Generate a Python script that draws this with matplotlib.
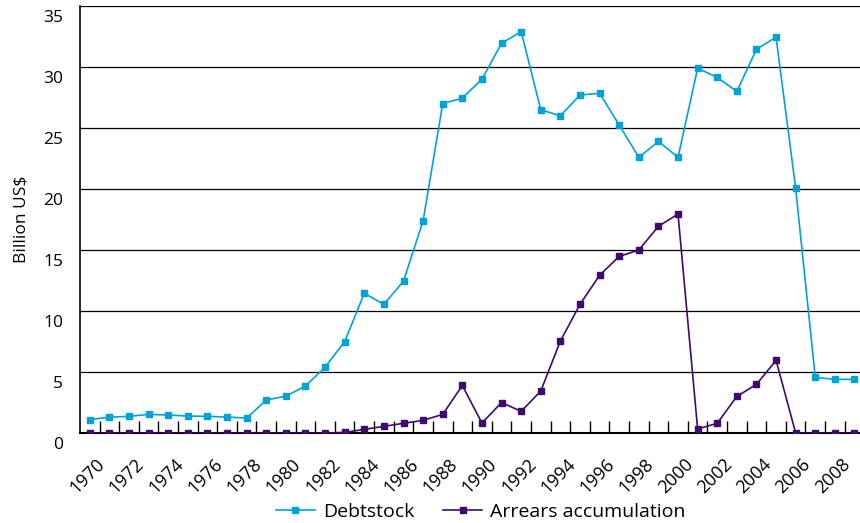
import numpy as np
import matplotlib.pyplot as plt
import matplotlib.transforms as mtransforms

# Data
years = list(range(1970, 2010))
debtstock = [1.1, 1.3, 1.37, 1.53, 1.48, 1.39, 1.37, 1.31, 1.23, 2.7,
             3.03, 3.85, 5.4, 7.5, 11.45, 10.55, 12.45, 17.4, 27.0, 27.45,
             29.0, 31.95, 32.9, 26.5, 26.0, 27.7, 27.85, 25.25, 22.6, 23.9,
             22.6, 29.9, 29.15, 28.0, 31.45, 32.45, 20.05, 4.56, 4.4, 4.4]
arrears = [0, 0, 0, 0, 0, 0, 0, 0, 0, 0,
           0, 0, 0, 0.05, 0.3, 0.55, 0.8, 1.04, 1.53, 3.9,
           0.82, 2.5, 1.78, 3.44, 7.54, 10.55, 12.93, 14.48, 15.0, 16.94,
           17.95, 0.33, 0.8, 3.0, 3.99, 5.96, 0, 0, 0, 0]
yticks = [0, 5, 10, 15, 20, 25, 30, 35]

plt.rcParams['font.family'] = ['Open Sans', 'DejaVu Sans']

fig = plt.figure(figsize=(8.6, 5.23), dpi=100)
ax = fig.add_axes([0.093, 0.172, 0.912, 0.8165])

x = np.arange(len(years))
ax.plot(x, debtstock, color="#00a3d6", lw=1.2, marker='s', ms=5,
        label="Debtstock", zorder=3)
ax.plot(x, arrears, color="#3d0a6e", lw=1.2, marker='s', ms=5,
        label="Arrears accumulation", zorder=3)

ax.set_xlim(-0.5, len(years) - 0.5)
ax.set_ylim(0, 35)

# horizontal grid lines; labels sit a little below their line
ax.set_yticks(yticks)
ax.set_yticklabels([str(v) for v in yticks], fontsize=12.5)
ax.yaxis.grid(True, color='black', lw=0.9)
ax.tick_params(axis='y', length=0, pad=12)
shift = mtransforms.ScaledTranslation(0, -10 / 100, fig.dpi_scale_trans)
for lab in ax.get_yticklabels():
    lab.set_transform(lab.get_transform() + shift)

# category ticks between years, labels every second year
ax.set_xticks(x[1:] - 0.5)
ax.set_xticklabels([])
ax.tick_params(axis='x', which='major', direction='in', length=9, width=1, color='black')
ax.set_xticks(x[::2], minor=True)
ax.set_xticklabels([str(y) for y in years[::2]], minor=True, rotation=45,
                   ha='right', rotation_mode='anchor', fontsize=13)
ax.tick_params(axis='x', which='minor', length=0, pad=6)
xshift = mtransforms.ScaledTranslation(6 / 100, -14 / 100, fig.dpi_scale_trans)
for lab in ax.get_xticklabels(minor=True):
    lab.set_transform(lab.get_transform() + xshift)

for s in ['top', 'right']:
    ax.spines[s].set_visible(False)
ax.spines['left'].set_linewidth(1.2)
ax.spines['bottom'].set_linewidth(1.5)
ax.set_axisbelow(True)

ax.set_ylabel("Billion US$", fontsize=12.5, labelpad=10)

fig.legend(*ax.get_legend_handles_labels(), loc='center',
           bbox_to_anchor=(0.559, 0.021), ncol=2, frameon=False, fontsize=14,
           handlelength=2.0, handletextpad=0.4, columnspacing=1.5)

fig.savefig("out.png", dpi=100)
